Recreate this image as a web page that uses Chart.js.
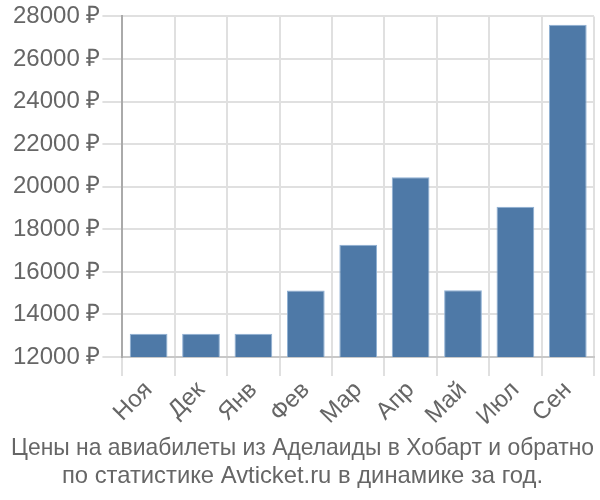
<!DOCTYPE html>
<html>
<head>
<meta charset="utf-8">
<script src="https://cdn.jsdelivr.net/npm/chart.js@4"></script>
<style>
  html, body { margin: 0; padding: 0; background: #fff; }
  #wrap { width: 600px; height: 500px; }
</style>
</head>
<body>
<div id="wrap"><canvas id="priceChart"></canvas></div>
<script>
// Данные графика
const months = ['Ноя', 'Дек', 'Янв', 'Фев', 'Мар', 'Апр', 'Май', 'Июл', 'Сен'];
const prices = [13090, 13090, 13090, 15130, 17280, 20440, 15140, 19060, 27610];
const yTicks = [12000, 14000, 16000, 18000, 20000, 22000, 24000, 26000, 28000];
const titleLines = [
    'Цены на авиабилеты из Аделаиды в Хобарт и обратно',
    'по статистике Avticket.ru в динамике за год.'
];

Chart.defaults.font.family = '"Liberation Sans", Arial, sans-serif';
Chart.defaults.color = '#666';

const ctx = document.getElementById('priceChart');
new Chart(ctx, {
    type: 'bar',
    data: {
        labels: months,
        datasets: [{
            data: prices,
            backgroundColor: '#4e79a7',
            borderColor: '#8fb0d4',
            borderWidth: 1
        }]
    },
    options: {
        responsive: true,
        maintainAspectRatio: false,
        animation: false,
        layout: { padding: { top: 2, right: 6, left: 11, bottom: 0 } },
        plugins: {
            legend: { display: false },
            tooltip: { enabled: false },
            title: {
                display: true,
                position: 'bottom',
                text: titleLines,
                color: '#666',
                font: { size: 23.8, weight: 'normal' },
                lineHeight: 1.22,
                padding: { top: 3, bottom: 9 }
            }
        },
        scales: {
            x: {
                grid: { color: '#e0e0e0', lineWidth: 2, tickLength: 19 },
                border: { color: '#c8c8c8', width: 2 },
                ticks: {
                    font: { size: 24 },
                    color: '#666',
                    maxRotation: 45,
                    minRotation: 45,
                    padding: 0
                }
            },
            y: {
                min: 12000,
                max: 28000,
                afterBuildTicks: axis => {
                    axis.ticks = yTicks.map(v => ({ value: v }));
                },
                grid: { color: '#e0e0e0', lineWidth: 2, tickLength: 20 },
                border: { color: '#aaa', width: 2 },
                ticks: {
                    font: { size: 24 },
                    color: '#666',
                    padding: 2,
                    callback: v => v + ' ₽'
                }
            }
        }
    }
});
</script>
</body>
</html>
